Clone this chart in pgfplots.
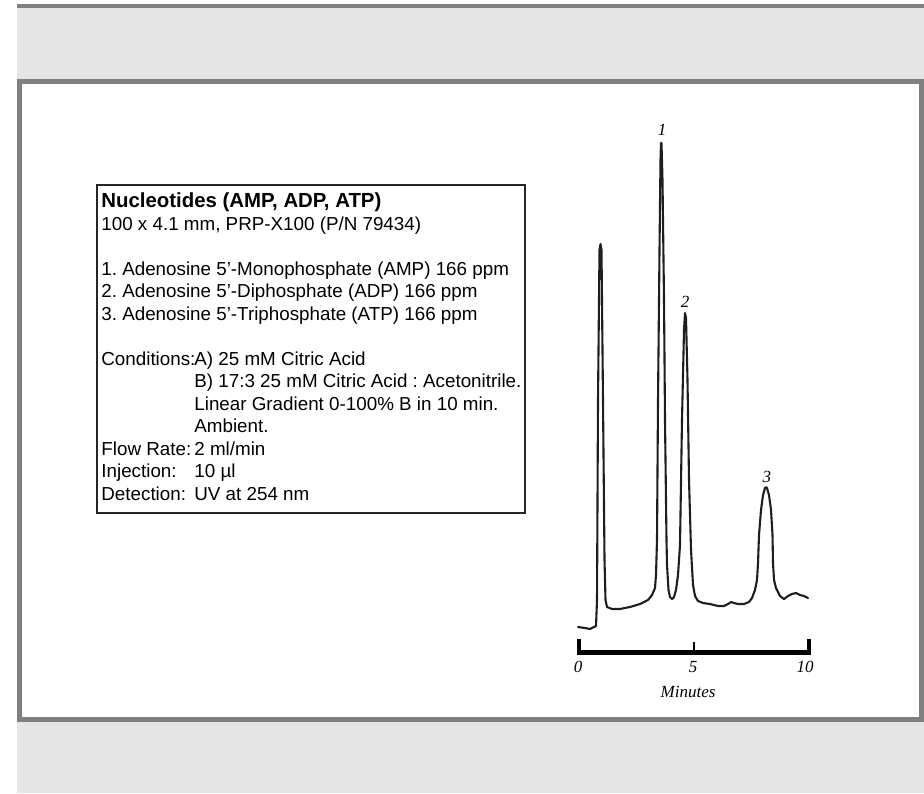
\documentclass[border=0pt]{standalone}
\usepackage{pgfplots}
\pgfplotsset{compat=1.18}
\usepackage{fontspec}
\setmainfont{Liberation Sans}
\newfontfamily\tnr{Liberation Serif}
\definecolor{bgray}{HTML}{E5E5E5}
\definecolor{dgray}{HTML}{808080}
\definecolor{trace}{HTML}{1E1E1E}
\frenchspacing
\begin{document}
\begin{tikzpicture}
\useasboundingbox (0,0) rectangle (462pt,-396.5pt);
\begin{scope}[x=0.5pt,y=-0.5pt]
\fill[white] (0,0) rectangle (924,793);
\fill[bgray] (17,4) rectangle (924,793);
\fill[dgray] (17,4) rectangle (924,8);
\fill[dgray] (17,79) rectangle (924,722);
\fill[white] (22,84) rectangle (919,717);
\draw[line width=0.6pt, black!85] (97,185) rectangle (525,513);
\begin{scope}[every node/.style={anchor=base west, inner sep=0pt, font=\fontsize{9.4pt}{11pt}\selectfont}]
\node[font=\fontsize{10.2pt}{12pt}\selectfont\bfseries] at (101,207.5) {Nucleotides (AMP, ADP, ATP)};
\node at (101,230) {100 x 4.1 mm, PRP-X100 (P/N 79434)};
\node at (101,275) {1. Adenosine 5’-Monophosphate (AMP) 166 ppm};
\node at (101,297.5) {2. Adenosine 5’-Diphosphate (ADP) 166 ppm};
\node at (101,320) {3. Adenosine 5’-Triphosphate (ATP) 166 ppm};
\node at (101,365) {Conditions:};
\node at (194,365) {A) 25 mM Citric Acid};
\node at (194,387.5) {B) 17:3 25 mM Citric Acid : Acetonitrile.};
\node at (194,410) {Linear Gradient 0-100\% B in 10 min.};
\node at (194,432.5) {Ambient.};
\node at (101,455) {Flow Rate:};
\node at (194,455) {2 ml/min};
\node at (101,477.5) {Injection:};
\node at (194,477.5) {10 µl};
\node at (101,500) {Detection:};
\node at (194,500) {UV at 254 nm};
\end{scope}
\end{scope}
\begin{axis}[at={(280pt,-360pt)}, anchor=south west, width=135pt, height=310pt,
  scale only axis, axis lines=none, xmin=-0.826, xmax=10.913, ymin=-93, ymax=527, clip=false]
\addplot[line width=1.05pt, color=trace, line join=round, line cap=round] coordinates {
(-0.043,0) (0.261,-1) (0.478,-2) (0.652,0) (0.739,1) (0.783,27) (0.826,227) (0.891,377)
(0.935,383) (0.978,377) (1.043,227) (1.109,67) (1.152,27) (1.217,20) (1.435,18) (1.783,18)
(2.217,20) (2.652,23) (3.000,27) (3.174,32) (3.304,39) (3.348,52) (3.391,87) (3.435,227)
(3.500,377) (3.543,467) (3.565,484) (3.587,484) (3.630,447) (3.696,327) (3.739,207) (3.804,87)
(3.826,62) (3.891,37) (3.957,30) (4.043,28) (4.130,30) (4.217,37) (4.304,52) (4.391,82)
(4.478,207) (4.565,297) (4.609,314) (4.652,309) (4.717,247) (4.783,147) (4.870,77) (4.957,42)
(5.043,31) (5.174,26) (5.391,24) (5.696,23) (6.043,21) (6.304,21) (6.478,23) (6.609,25)
(6.739,24) (6.913,23) (7.174,23) (7.391,25) (7.522,29) (7.652,37) (7.739,47) (7.783,64)
(7.826,92) (7.913,117) (8.000,132) (8.087,139) (8.130,140) (8.174,139) (8.261,132) (8.348,117)
(8.413,92) (8.435,64) (8.478,47) (8.565,39) (8.739,31) (8.913,28) (9.087,31) (9.261,33)
(9.435,34) (9.609,32) (9.783,31) (9.957,29)
};
% scale bar
\addplot[line width=2.5pt, black] coordinates {(0,-25.5) (10,-25.5)};
\addplot[line width=2pt, black] coordinates {(0,-28) (0,-12)};
\addplot[line width=2pt, black] coordinates {(10,-28) (10,-12)};
\addplot[line width=1pt, black] coordinates {(5,-24) (5,-15)};
\node[font=\tnr\itshape\fontsize{8.5pt}{9pt}\selectfont] at (axis cs:-0.04,-40) {0};
\node[font=\tnr\itshape\fontsize{8.5pt}{9pt}\selectfont] at (axis cs:4.96,-40) {5};
\node[font=\tnr\itshape\fontsize{8.5pt}{9pt}\selectfont] at (axis cs:9.83,-40) {10};
\node[font=\tnr\itshape\fontsize{8.5pt}{9pt}\selectfont] at (axis cs:4.74,-65) {Minutes};
\node[font=\tnr\itshape\fontsize{8.5pt}{9pt}\selectfont] at (axis cs:3.61,497) {1};
\node[font=\tnr\itshape\fontsize{8.5pt}{9pt}\selectfont] at (axis cs:4.61,325) {2};
\node[font=\tnr\itshape\fontsize{8.5pt}{9pt}\selectfont] at (axis cs:8.17,150) {3};
\end{axis}
\end{tikzpicture}
\end{document}
